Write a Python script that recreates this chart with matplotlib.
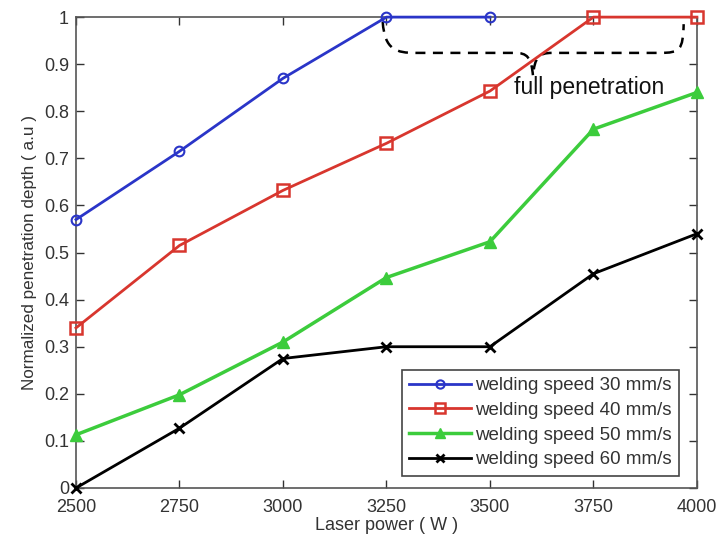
import matplotlib
matplotlib.use("Agg")
from matplotlib import pyplot as plt
from matplotlib.path import Path
from matplotlib.patches import PathPatch

# laser power (W) and normalized penetration depth for each welding speed
power = [2500, 2750, 3000, 3250, 3500, 3750, 4000]
depth_30 = [0.57, 0.715, 0.87, 1.0, 1.0]
depth_40 = [0.34, 0.515, 0.632, 0.732, 0.843, 1.0, 1.0]
depth_50 = [0.113, 0.198, 0.31, 0.447, 0.523, 0.762, 0.84]
depth_60 = [0.0, 0.127, 0.275, 0.30, 0.30, 0.455, 0.54]

labels = ["welding speed 30 mm/s", "welding speed 40 mm/s",
          "welding speed 50 mm/s", "welding speed 60 mm/s"]
y_ticks = [0, 0.1, 0.2, 0.3, 0.4, 0.5, 0.6, 0.7, 0.8, 0.9, 1]
y_tick_labels = ["0", "0.1", "0.2", "0.3", "0.4", "0.5", "0.6", "0.7", "0.8", "0.9", "1"]

plt.rcParams['font.family'] = ['Liberation Sans', 'DejaVu Sans']

fig = plt.figure(figsize=(7.17, 5.45), dpi=100)
ax = fig.add_axes([0.106, 0.1046, 0.866, 0.864])

ax.plot(power[:len(depth_30)], depth_30, color="#2a35c8", lw=2, marker="o",
        ms=7, mfc="none", mew=1.5, label=labels[0], clip_on=False, zorder=4)
ax.plot(power, depth_40, color="#d8362e", lw=2, marker="s",
        ms=8, mfc="none", mew=1.8, label=labels[1], clip_on=False, zorder=4)
ax.plot(power, depth_50, color="#3ccc3c", lw=2.5, marker="^",
        ms=8, label=labels[2], clip_on=False, zorder=4)
ax.plot(power, depth_60, color="black", lw=2, marker="x",
        ms=7, mew=2, label=labels[3], clip_on=False, zorder=4)

# dashed brace marking the full penetration region
verts = [(3241, 0.99), (3245, 0.93), (3275, 0.924), (3320, 0.924),
         (3560, 0.924),
         (3590, 0.924), (3600, 0.915), (3604, 0.875),
         (3608, 0.915), (3618, 0.924), (3650, 0.924),
         (3910, 0.924),
         (3960, 0.924), (3966, 0.93), (3968, 0.985)]
codes = [Path.MOVETO, Path.CURVE4, Path.CURVE4, Path.CURVE4,
         Path.LINETO,
         Path.CURVE4, Path.CURVE4, Path.CURVE4,
         Path.CURVE4, Path.CURVE4, Path.CURVE4,
         Path.LINETO,
         Path.CURVE4, Path.CURVE4, Path.CURVE4]
ax.add_patch(PathPatch(Path(verts, codes), fill=False, ls=(0, (4, 3)),
                       lw=1.8, color="black", zorder=3))
ax.text(3739, 0.851, "full penetration", fontsize=16.5, ha="center",
        va="center", color="#111111", zorder=5)

ax.set_xlim(2500, 4000)
ax.set_ylim(0, 1)
ax.set_xticks(power)
ax.set_yticks(y_ticks)
ax.set_yticklabels(y_tick_labels)
ax.tick_params(direction="in", top=True, right=True, labelsize=13,
               colors="#333333", length=6, width=1)
ax.tick_params(axis="x", pad=8)
ax.tick_params(axis="y", pad=5)
for s in ax.spines.values():
    s.set_color("#555555")
    s.set_linewidth(1.2)

ax.set_xlabel("Laser power ( W )", fontsize=13, color="#333333", labelpad=1)
ax.set_ylabel("Normalized penetration depth ( a.u )", fontsize=12.3,
              color="#333333", labelpad=5)

leg = ax.legend(loc="lower right", bbox_to_anchor=(0.971, 0.026),
                borderaxespad=0, fontsize=13.5, fancybox=False,
                edgecolor="#444444", framealpha=1, handlelength=3.3,
                handletextpad=0.2, labelspacing=0.4, borderpad=0.4,
                markerscale=0.85)
leg.get_frame().set_linewidth(1.2)
for t in leg.get_texts():
    t.set_color("#333333")

fig.savefig("out.png", dpi=100)
